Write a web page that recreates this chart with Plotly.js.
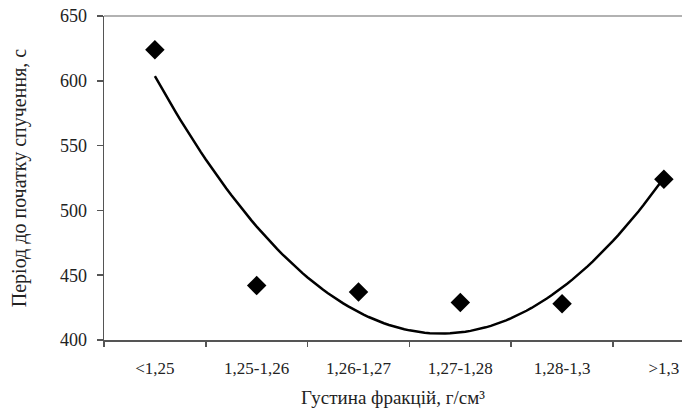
<!DOCTYPE html>
<html>
<head>
<meta charset="utf-8">
<script src="https://cdn.plot.ly/plotly-3.0.1.min.js"></script>
<style>html,body{margin:0;padding:0;background:#fff;}#chart{width:682px;height:414px;}</style>
</head>
<body>
<div id="chart"></div>
<script>
// Data
const categories = ['<1,25', '1,25-1,26', '1,26-1,27', '1,27-1,28', '1,28-1,3', '>1,3'];
const periodValues = [624, 442, 437, 429, 428, 524];
const yTickValues = [400, 450, 500, 550, 600, 650];

// Quadratic least-squares trendline (as in the original chart), fitted to the data
function quadFit(xs, ys) {
  let n = xs.length, s1 = 0, s2 = 0, s3 = 0, s4 = 0, sy = 0, sxy = 0, sx2y = 0;
  for (let i = 0; i < n; i++) {
    const x = xs[i], y = ys[i];
    s1 += x; s2 += x * x; s3 += x * x * x; s4 += x * x * x * x;
    sy += y; sxy += x * y; sx2y += x * x * y;
  }
  const M = [[n, s1, s2, sy], [s1, s2, s3, sxy], [s2, s3, s4, sx2y]];
  for (let i = 0; i < 3; i++) {
    for (let k = i + 1; k < 3; k++) {
      const f = M[k][i] / M[i][i];
      for (let j = i; j < 4; j++) M[k][j] -= f * M[i][j];
    }
  }
  const c = [0, 0, 0];
  for (let i = 2; i >= 0; i--) {
    let s = M[i][3];
    for (let j = i + 1; j < 3; j++) s -= M[i][j] * c[j];
    c[i] = s / M[i][i];
  }
  return c;
}
const xIdx = categories.map((_, i) => i);
const coef = quadFit(xIdx, periodValues);
const trendX = [], trendY = [];
const steps = 100;
for (let k = 0; k <= steps; k++) {
  const t = (categories.length - 1) * k / steps;
  trendX.push(t);
  trendY.push(coef[0] + coef[1] * t + coef[2] * t * t);
}

const fam = 'Liberation Serif';
const col = '#222';

const traces = [
  {
    x: trendX, y: trendY, type: 'scatter', mode: 'lines',
    line: {color: '#000', width: 2.5}, hoverinfo: 'skip', showlegend: false
  },
  {
    x: xIdx, y: periodValues, type: 'scatter', mode: 'markers',
    marker: {symbol: 'diamond', size: 15, color: '#000'}, showlegend: false
  },
  // invisible trace to enable the secondary x axis carrying the boundary ticks
  {x: [0], y: [null], xaxis: 'x2', yaxis: 'y', type: 'scatter', mode: 'markers', showlegend: false, hoverinfo: 'skip'}
];

const layout = {
  width: 682, height: 414,
  margin: {l: 104, r: 0, t: 16, b: 74},
  paper_bgcolor: '#fff', plot_bgcolor: '#fff',
  font: {family: fam, size: 16, color: col},
  xaxis: {
    type: 'linear',
    range: [-0.5, 5.178],
    tickmode: 'array', tickvals: xIdx, ticktext: categories,
    showgrid: false, zeroline: false,
    showline: true, linecolor: '#555', linewidth: 1.5,
    ticks: '',
    tickfont: {family: fam, size: 17, color: col},
    ticklabelstandoff: 12,
    title: {text: 'Густина фракцій, г/см³', font: {family: fam, size: 19, color: col}, standoff: 14}
  },
  xaxis2: {
    overlaying: 'x', matches: 'x', anchor: 'y',
    tickmode: 'array', tickvals: [-0.5, 0.5, 1.5, 2.5, 3.5, 4.5],
    showticklabels: false, ticks: 'outside', ticklen: 6, tickcolor: '#555', tickwidth: 1.5,
    showgrid: false, zeroline: false, showline: false
  },
  yaxis: {
    range: [400, 650],
    tickmode: 'array', tickvals: yTickValues,
    showgrid: false, zeroline: false,
    showline: true, linecolor: '#555', linewidth: 1.5,
    ticks: 'outside', ticklen: 6, tickcolor: '#555', tickwidth: 1.5,
    tickfont: {family: fam, size: 18, color: col},
    ticklabelstandoff: 6,
    title: {text: 'Період до початку спучення, с', font: {family: fam, size: 20, color: col}, standoff: 28}
  },
  shapes: [
    {type: 'line', xref: 'paper', yref: 'paper', x0: 0, x1: 1, y0: 1, y1: 1,
     line: {color: '#999', width: 1.5}}
  ]
};

Plotly.newPlot('chart', traces, layout, {displayModeBar: false, staticPlot: true});
</script>
</body>
</html>
